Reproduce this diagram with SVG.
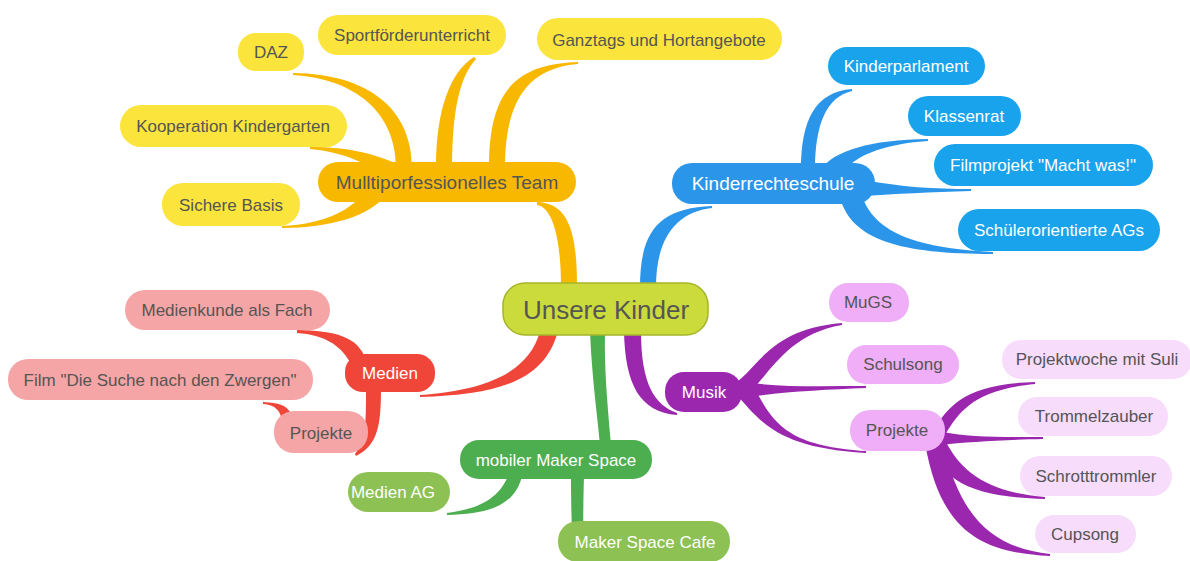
<svg xmlns="http://www.w3.org/2000/svg" width="1190" height="561" viewBox="0 0 1190 561">
<style>
text{font-family:"Liberation Sans",Arial,sans-serif;text-anchor:middle;dominant-baseline:central;font-size:17px}
.dk{fill:#555555}
.wt{fill:#ffffff}
.cY{fill:#f9b800}.nY{fill:#fbe43c}
.cB{fill:#2b95ea}.nB{fill:#19a3ec}
.cR{fill:#f0463a}.nR{fill:#f5a5a5}
.cG{fill:#4cae4f}.nG{fill:#8dc153}
.cP{fill:#9b27af}.nP{fill:#efaef7}.nP2{fill:#f8dcfb}
</style>
<rect width="1190" height="561" fill="#ffffff"/>
<g id="connectors">
  <!-- yellow -->
  <path class="cY" d="M577 287 C577 235 570 203 537 202 L537 205 C553 207 561 240 561 287 Z"/>
  <path class="cY" d="M412 168 C412 110 370 74 293 73 L293 75 C355 79 396 112 396 168 Z"/>
  <path class="cY" d="M436 168 C436 110 450 72 474 57 L476 59 C460 76 452 110 452 168 Z"/>
  <path class="cY" d="M489 168 C489 95 512 64 578 62 L578 64 C527 68 505 102 505 168 Z"/>
  <path class="cY" d="M400 165 C370 152 345 147 310 147 L310 149 C345 152 370 165 385 178 Z"/>
  <path class="cY" d="M386 195 C370 216 330 228 282 228 L282 226 C325 224 352 210 366 190 Z"/>
  <!-- blue -->
  <path class="cB" d="M640 287 C640 230 660 208 712 206 L712 208 C675 212 656 240 656 287 Z"/>
  <path class="cB" d="M801 170 C801 120 815 92 852 89 L852 91 C826 97 815 125 815 170 Z"/>
  <path class="cB" d="M820 170 C835 150 870 140 928 139 L928 141 C880 144 852 158 844 172 Z"/>
  <path class="cB" d="M865 180 C900 187 935 189 971 189 L971 191 C930 192 895 194 865 196 Z"/>
  <path class="cB" d="M840 198 C852 240 900 254 993 254 L993 252 C910 248 874 230 862 196 Z"/>
  <!-- red -->
  <path class="cR" d="M558 331 C545 380 500 395 420 397 L420 395 C490 390 530 370 540 331 Z"/>
  <path class="cR" d="M366 360 C358 336 335 331 297 330 L297 333 C325 335 340 345 350 362 Z"/>
  <path class="cR" d="M381 388 C381 425 378 445 356 456 L355 454 C366 440 366 425 366 388 Z"/>
  <path class="cR" d="M293 420 C290 405 280 403 263 402 L263 404 C275 405 280 410 282 420 Z"/>
  <!-- green -->
  <path class="cG" d="M590 331 C592 380 598 420 600 445 L611 445 C608 410 604 370 605 331 Z"/>
  <path class="cG" d="M522 476 C515 505 490 514 447 515 L447 513 C485 508 500 495 508 476 Z"/>
  <path class="cG" d="M571 476 C571 510 572 540 574 561 L584 561 C583 540 583 510 584 476 Z"/>
  <!-- purple -->
  <path class="cP" d="M624 331 C625 385 640 412 677 415 L677 413 C655 405 641 385 641 331 Z"/>
  <path class="cP" d="M728 388 C760 370 765 330 842 323 L842 325 C785 335 770 375 745 397 Z"/>
  <path class="cP" d="M735 380 C770 388 820 386 866 386 L866 388 C820 390 770 392 735 400 Z"/>
  <path class="cP" d="M735 393 C760 420 775 448 866 453 L866 451 C790 446 775 425 757 393 Z"/>
  <path class="cP" d="M933 430 C950 405 965 384 1035 382 L1035 384 C975 390 960 410 945 435 Z"/>
  <path class="cP" d="M938 431 C970 438 1000 437 1043 437 L1043 439 C1000 440 970 442 938 445 Z"/>
  <path class="cP" d="M928 440 C940 480 970 497 1045 499 L1045 497 C985 492 960 470 945 440 Z"/>
  <path class="cP" d="M925 443 C940 530 980 553 1050 556 L1050 554 C995 548 960 520 943 443 Z"/>
</g>
<g id="center">
  <rect x="503" y="283" width="205" height="52" rx="22" fill="#cbdb3c" stroke="#a5b52a" stroke-width="1.5"/>
  <text x="606" y="310" class="dk" style="font-size:26px">Unsere Kinder</text>
</g>
<g id="multi"><rect class="cY" x="318" y="162" width="258" height="40" rx="20"/><text class="dk" x="447" y="182" style="font-size:19px">Mulltiporfessionelles Team</text></g>
<g id="daz"><rect class="nY" x="238" y="33" width="66" height="38" rx="18"/><text class="dk" x="271" y="52">DAZ</text></g>
<g id="sport"><rect class="nY" x="318" y="15" width="188" height="40" rx="20"/><text class="dk" x="412" y="35">Sportförderunterricht</text></g>
<g id="ganztags"><rect class="nY" x="537" y="18" width="245" height="42" rx="21"/><text class="dk" x="659" y="40">Ganztags und Hortangebote</text></g>
<g id="kooperation"><rect class="nY" x="120" y="105" width="227" height="42" rx="21"/><text class="dk" x="233" y="126">Kooperation Kindergarten</text></g>
<g id="sichere"><rect class="nY" x="162" y="183" width="138" height="43" rx="21"/><text class="dk" x="231" y="205">Sichere Basis</text></g>

<g id="kinderrechteschule"><rect class="cB" x="672" y="163" width="203" height="41" rx="20"/><text class="wt" x="773" y="183" style="font-size:19px">Kinderrechteschule</text></g>
<g id="kinderparlament"><rect class="nB" x="828" y="47" width="157" height="38" rx="19"/><text class="wt" x="906" y="66">Kinderparlament</text></g>
<g id="klassenrat"><rect class="nB" x="908" y="96" width="113" height="40" rx="20"/><text class="wt" x="964" y="116">Klassenrat</text></g>
<g id="filmprojekt"><rect class="nB" x="934" y="144" width="219" height="42" rx="21"/><text class="wt" x="1043" y="165">Filmprojekt "Macht was!"</text></g>
<g id="schuelerags"><rect class="nB" x="958" y="209" width="202" height="42" rx="21"/><text class="wt" x="1059" y="230">Schülerorientierte AGs</text></g>

<g id="medien"><rect class="cR" x="345" y="354" width="90" height="38" rx="18"/><text class="wt" x="390" y="373">Medien</text></g>
<g id="medienkunde"><rect class="nR" x="125" y="290" width="205" height="40" rx="20"/><text class="dk" x="227" y="310">Medienkunde als Fach</text></g>
<g id="film"><rect class="nR" x="8" y="359" width="305" height="41" rx="20"/><text class="dk" x="160" y="380">Film "Die Suche nach den Zwergen"</text></g>
<g id="projekte-medien"><rect class="nR" x="274" y="411" width="94" height="42" rx="20"/><text class="dk" x="321" y="433">Projekte</text></g>

<g id="makerspace"><rect class="cG" x="460" y="440" width="192" height="39" rx="19"/><text class="wt" x="556" y="460">mobiler Maker Space</text></g>
<g id="medienag"><rect class="nG" x="348" y="472" width="102" height="40" rx="20"/><text class="wt" x="393" y="492">Medien AG</text></g>
<g id="cafe"><rect class="nG" x="558" y="521" width="172" height="41" rx="20"/><text class="wt" x="645" y="542">Maker Space Cafe</text></g>

<g id="musik"><rect class="cP" x="665" y="372" width="77" height="40" rx="19"/><text class="wt" x="704" y="392">Musik</text></g>
<g id="mugs"><rect class="nP" x="829" y="283" width="80" height="39" rx="19"/><text class="dk" x="868" y="302">MuGS</text></g>
<g id="schulsong"><rect class="nP" x="847" y="345" width="112" height="39" rx="19"/><text class="dk" x="903" y="364">Schulsong</text></g>
<g id="projekte-musik"><rect class="nP" x="850" y="410" width="95" height="41" rx="20"/><text class="dk" x="897" y="430">Projekte</text></g>
<g id="projektwoche"><rect class="nP2" x="1002" y="340" width="190" height="39" rx="19"/><text class="dk" x="1097" y="359">Projektwoche mit Suli</text></g>
<g id="trommelzauber"><rect class="nP2" x="1018" y="397" width="150" height="39" rx="19"/><text class="dk" x="1094" y="416">Trommelzauber</text></g>
<g id="schrott"><rect class="nP2" x="1020" y="456" width="152" height="40" rx="20"/><text class="dk" x="1096" y="476">Schrotttrommler</text></g>
<g id="cupsong"><rect class="nP2" x="1035" y="515" width="101" height="38" rx="19"/><text class="dk" x="1085" y="534">Cupsong</text></g>
</svg>
